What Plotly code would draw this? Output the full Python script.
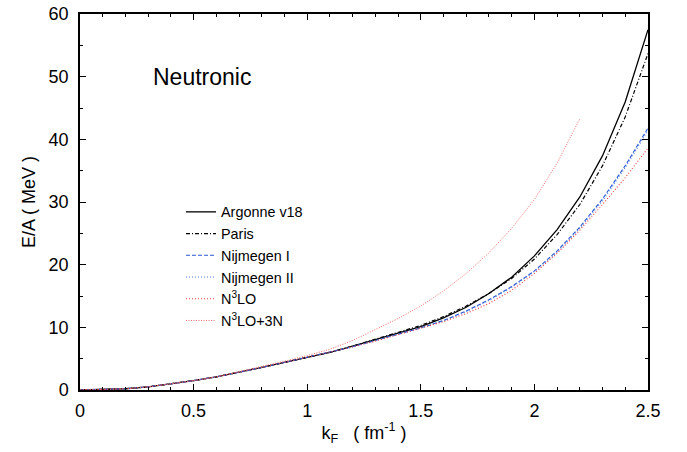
import plotly.graph_objects as go

kF = [0.0, 0.1, 0.2, 0.3, 0.4, 0.5, 0.6, 0.7, 0.8, 0.9, 1.0, 1.1, 1.2, 1.3,
      1.4, 1.5, 1.6, 1.7, 1.8, 1.9, 2.0, 2.1, 2.2, 2.3, 2.4, 2.5]

argonne_v18 = [0.0, 0.05, 0.2, 0.5, 0.95, 1.5, 2.1, 2.8, 3.6, 4.4, 5.2, 6.0, 7.0, 8.0,
               9.0, 10.1, 11.5, 13.2, 15.4, 18.0, 21.4, 25.6, 30.8, 37.4, 46.0, 57.5]
paris = [0.0, 0.05, 0.2, 0.5, 0.95, 1.5, 2.1, 2.8, 3.6, 4.4, 5.2, 6.0, 7.0, 8.1,
         9.1, 10.3, 11.7, 13.4, 15.4, 17.8, 20.9, 24.8, 29.6, 35.8, 43.6, 53.7]
nijmegen_1 = [0.0, 0.05, 0.2, 0.5, 0.95, 1.5, 2.1, 2.8, 3.6, 4.4, 5.2, 6.0, 6.9, 7.9,
              8.9, 9.9, 11.1, 12.6, 14.4, 16.5, 19.0, 22.2, 26.0, 30.5, 35.8, 41.8]
nijmegen_2 = [0.0, 0.05, 0.2, 0.5, 0.95, 1.5, 2.1, 2.8, 3.6, 4.4, 5.2, 6.0, 6.9, 7.9,
              8.9, 9.9, 11.0, 12.5, 14.3, 16.4, 18.9, 22.0, 25.8, 30.2, 35.5, 41.4]
n3lo = [0.0, 0.05, 0.2, 0.5, 0.95, 1.5, 2.1, 2.8, 3.6, 4.4, 5.2, 6.0, 6.9, 7.8,
        8.8, 9.8, 10.9, 12.2, 13.8, 15.9, 18.6, 21.8, 25.5, 29.6, 33.9, 38.6]
kF_3n = kF[:23]
n3lo_3n = [0.0, 0.05, 0.2, 0.5, 0.95, 1.5, 2.1, 2.9, 3.7, 4.6, 5.5, 6.5, 7.9, 9.6,
           11.4, 13.4, 15.8, 18.6, 21.9, 25.8, 30.4, 36.2, 43.3]

fig = go.Figure()
fig.add_trace(go.Scatter(x=kF, y=argonne_v18, mode="lines", name="Argonne v18",
                         line=dict(color="black", width=1.3, dash="solid")))
fig.add_trace(go.Scatter(x=kF, y=paris, mode="lines", name="Paris",
                         line=dict(color="black", width=1.2, dash="4px,2px,1px,2px")))
fig.add_trace(go.Scatter(x=kF, y=nijmegen_1, mode="lines", name="Nijmegen I",
                         line=dict(color="#2858d0", width=1.1, dash="4px,2px")))
fig.add_trace(go.Scatter(x=kF, y=nijmegen_2, mode="lines", name="Nijmegen II",
                         line=dict(color="#5078dc", width=1.1, dash="1px,2px")))
fig.add_trace(go.Scatter(x=kF, y=n3lo, mode="lines", name="N<sup>3</sup>LO",
                         line=dict(color="#e83a3a", width=1.1, dash="1px,2px")))
fig.add_trace(go.Scatter(x=kF_3n, y=n3lo_3n, mode="lines", name="N<sup>3</sup>LO+3N",
                         line=dict(color="#f06a6a", width=1.0, dash="1px,1.5px")))

axis_common = dict(
    showline=True, linecolor="black", linewidth=1.5, mirror="allticks",
    ticks="inside", ticklen=6, tickwidth=1, tickcolor="black",
    showgrid=False, zeroline=False, automargin=False, ticklabeloverflow="allow",
    tickfont=dict(family="Liberation Sans, Arial", size=18, color="black"),
)

fig.update_xaxes(range=[0, 2.5], tick0=0, dtick=0.5, ticklabelstandoff=4,
                 minor=dict(ticks="inside", ticklen=3.5, dtick=0.1, tickcolor="black"),
                 title=dict(text="k<sub>F</sub>   ( fm<sup>-1</sup> )",
                            font=dict(family="Liberation Sans, Arial", size=18, color="black"),
                            standoff=6),
                 **axis_common)
fig.update_yaxes(range=[0, 60], tick0=0, dtick=10, ticklabelstandoff=6,
                 minor=dict(ticks="inside", ticklen=3.5, dtick=5, tickcolor="black"),
                 title=dict(text="E/A ( MeV )",
                            font=dict(family="Liberation Sans, Arial", size=18, color="black"),
                            standoff=8),
                 **axis_common)

fig.add_annotation(text="Neutronic", xref="paper", yref="paper",
                   x=(202 - 80) / 568, y=(390 - 77) / 376, showarrow=False,
                   xanchor="center", yanchor="middle",
                   font=dict(family="Liberation Sans, Arial", size=23, color="black"))

fig.update_layout(
    width=687, height=452,
    margin=dict(l=80, r=39, t=14, b=62),
    paper_bgcolor="white", plot_bgcolor="white",
    showlegend=True,
    legend=dict(x=(181 - 80) / 568, y=(390 - 196) / 376, xanchor="left", yanchor="top",
                bgcolor="rgba(0,0,0,0)", borderwidth=0, tracegroupgap=0,
                font=dict(family="Liberation Sans, Arial", size=14.4, color="black"),
                itemwidth=30),
)

fig.write_html("out.html",
               config={"displayModeBar": False},
               post_script="document.body.style.margin='0';document.body.style.overflow='hidden';")
